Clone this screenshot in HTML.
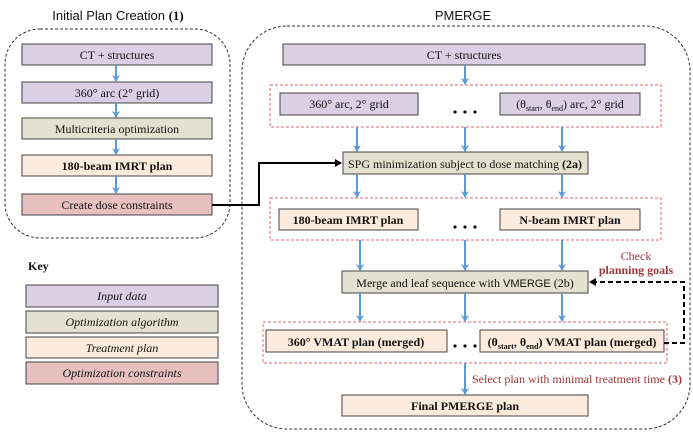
<!DOCTYPE html>
<html><head><meta charset="utf-8"><style>
body{margin:0;background:#fff}
svg{display:block}
text{font-family:"Liberation Serif",serif;font-size:12px;fill:#111}
.b{font-weight:bold}
.i{font-style:italic}
.s{font-family:"Liberation Sans",sans-serif}
.r{fill:#a0363a}
</style></head><body>
<svg width="693" height="439" viewBox="0 0 693 439" xmlns="http://www.w3.org/2000/svg">
<defs>
<marker id="ab" markerWidth="8" markerHeight="8" refX="6" refY="4" orient="auto" markerUnits="userSpaceOnUse"><path d="M0,0 L7,4 L0,8 L2,4 Z" fill="#5b9bd5"/></marker>
<marker id="ak" markerWidth="8" markerHeight="8" refX="6" refY="4" orient="auto" markerUnits="userSpaceOnUse"><path d="M0,0 L7,4 L0,8 Z" fill="#000"/></marker>
</defs>
<!-- panels -->
<rect x="5" y="29" width="225" height="209" rx="35" fill="none" stroke="#333" stroke-dasharray="3,2" stroke-width="1"/>
<rect x="242" y="26" width="448" height="403" rx="45" fill="none" stroke="#333" stroke-dasharray="3,2" stroke-width="1"/>
<text x="118" y="20" text-anchor="middle" class="s" style="font-size:13px">Initial Plan Creation <tspan class="b" style="font-family:'Liberation Serif',serif">(1)</tspan></text>
<text x="463" y="20" text-anchor="middle" class="s" style="font-size:13px">PMERGE</text>
<g stroke="#444" stroke-width="1">
<!-- left -->
<rect x="22" y="44" width="190" height="21" fill="#d9d0e3"/>
<rect x="22" y="82" width="190" height="21" fill="#d9d0e3"/>
<rect x="22" y="118" width="190" height="21" fill="#e3e2d0"/>
<rect x="22" y="155" width="190" height="21" fill="#fdebdd"/>
<rect x="22" y="194" width="190" height="21" fill="#e8c0c0"/>
<!-- key -->
<rect x="26" y="285" width="192" height="22" fill="#d9d0e3"/>
<rect x="26" y="311" width="192" height="22" fill="#e3e2d0"/>
<rect x="26" y="337" width="192" height="21" fill="#fdebdd"/>
<rect x="26" y="362" width="192" height="22" fill="#e8c0c0"/>
<!-- right -->
<rect x="283" y="44" width="362" height="21" fill="#d9d0e3"/>
<rect x="280" y="93" width="138" height="22" fill="#d9d0e3"/>
<rect x="500" y="93" width="140" height="22" fill="#d9d0e3"/>
<rect x="343" y="152" width="245" height="22" fill="#e3e2d0"/>
<rect x="279" y="209" width="139" height="21" fill="#fdebdd"/>
<rect x="500" y="209" width="140" height="21" fill="#fdebdd"/>
<rect x="342" y="271" width="246" height="22" fill="#e3e2d0"/>
<rect x="266" y="330" width="181" height="22" fill="#fdebdd"/>
<rect x="480" y="330" width="184" height="22" fill="#fdebdd"/>
<rect x="342" y="395" width="246" height="21" fill="#fdebdd"/>
</g>
<g fill="none" stroke="#e06666" stroke-dasharray="3,2" stroke-width="1">
<rect x="270" y="85" width="391" height="42"/>
<rect x="270" y="198" width="391" height="42"/>
<rect x="263" y="322" width="404" height="41"/>
</g>
<!-- blue arrows -->
<g stroke="#5b9bd5" stroke-width="2" marker-end="url(#ab)">
<line x1="116" y1="65" x2="116" y2="81"/>
<line x1="116" y1="103" x2="116" y2="117"/>
<line x1="116" y1="139" x2="116" y2="154"/>
<line x1="116" y1="176" x2="116" y2="193"/>
<line x1="465" y1="65" x2="465" y2="84"/>
<line x1="357" y1="127" x2="357" y2="151"/>
<line x1="465" y1="127" x2="465" y2="151"/>
<line x1="562" y1="127" x2="562" y2="151"/>
<line x1="357" y1="174" x2="357" y2="197"/>
<line x1="465" y1="174" x2="465" y2="197"/>
<line x1="562" y1="174" x2="562" y2="197"/>
<line x1="360" y1="240" x2="360" y2="270"/>
<line x1="465" y1="240" x2="465" y2="270"/>
<line x1="562" y1="240" x2="562" y2="270"/>
<line x1="360" y1="293" x2="360" y2="321"/>
<line x1="465" y1="293" x2="465" y2="321"/>
<line x1="562" y1="293" x2="562" y2="321"/>
<line x1="465" y1="363" x2="465" y2="394"/>
</g>
<!-- black connectors -->
<path d="M212,205 H259 V163 H341" fill="none" stroke="#000" stroke-width="2" marker-end="url(#ak)"/>
<path d="M664,343 H684 V282 H590" fill="none" stroke="#000" stroke-width="2" stroke-dasharray="5,3" marker-end="url(#ak)"/>
<!-- dots -->
<g fill="#111">
<circle cx="455" cy="112" r="1.6"/><circle cx="465" cy="112" r="1.6"/><circle cx="475" cy="112" r="1.6"/>
<circle cx="455" cy="227" r="1.6"/><circle cx="465" cy="227" r="1.6"/><circle cx="475" cy="227" r="1.6"/>
<circle cx="455" cy="346" r="1.6"/><circle cx="465" cy="346" r="1.6"/><circle cx="475" cy="346" r="1.6"/>
</g>
<!-- text -->
<g text-anchor="middle">
<text x="117" y="59">CT + structures</text>
<text x="117" y="97">360° arc (2° grid)</text>
<text x="117" y="133">Multicriteria optimization</text>
<text x="117" y="170" class="b">180-beam IMRT plan</text>
<text x="117" y="209">Create dose constraints</text>
<text x="122" y="300" class="i">Input data</text>
<text x="122" y="326" class="i">Optimization algorithm</text>
<text x="122" y="352" class="i">Treatment plan</text>
<text x="122" y="377" class="i">Optimization constraints</text>
<text x="464" y="59">CT + structures</text>
<text x="349" y="108">360° arc, 2° grid</text>
<text x="570" y="108">(θ<tspan style="font-size:8px" dy="3">start</tspan><tspan dy="-3">, θ</tspan><tspan style="font-size:8px" dy="3">end</tspan><tspan dy="-3">) arc, 2° grid</tspan></text>
<text x="465" y="168">SPG minimization subject to dose matching <tspan class="b">(2a)</tspan></text>
<text x="348" y="224" class="b">180-beam IMRT plan</text>
<text x="570" y="224" class="b">N-beam IMRT plan</text>
<text x="465" y="287">Merge and leaf sequence with <tspan class="s" style="font-size:11px">VMERGE</tspan> (2b)</text>
<text x="356" y="346" class="b">360° VMAT plan (merged)</text>
<text x="572" y="346" class="b">(θ<tspan style="font-size:8px" dy="3">start</tspan><tspan dy="-3">, θ</tspan><tspan style="font-size:8px" dy="3">end</tspan><tspan dy="-3">) VMAT plan (merged)</tspan></text>
<text x="465" y="410" class="b">Final PMERGE plan</text>
<text x="636" y="260" class="r">Check</text>
<text x="636" y="274" class="r b">planning goals</text>
</g>
<text x="28" y="270" class="b">Key</text>
<text x="472" y="383" class="r">Select plan with minimal treatment time <tspan class="b">(3)</tspan></text>
</svg>
</body></html>
